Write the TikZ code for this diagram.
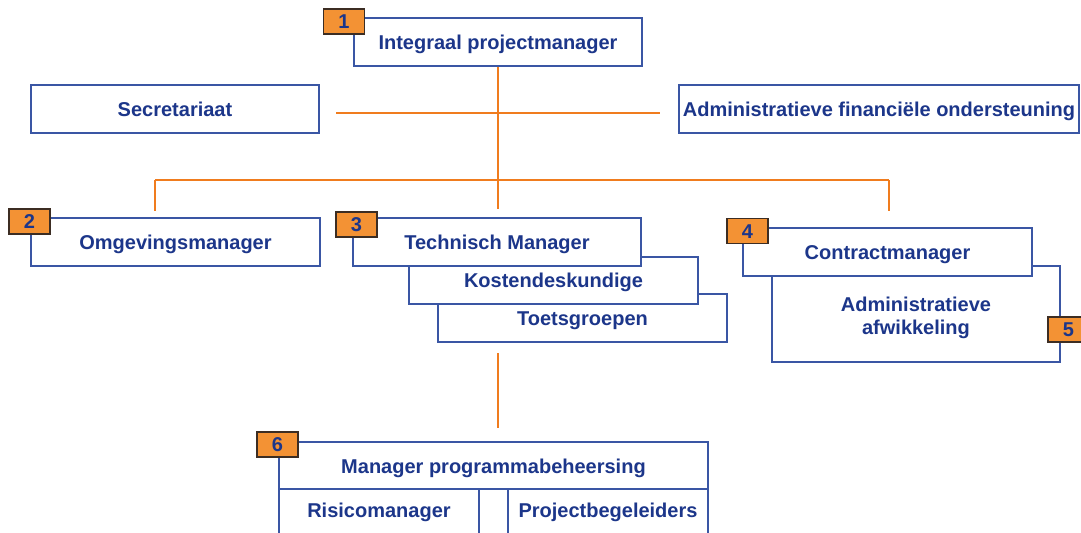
\documentclass[tikz,border=0pt]{standalone}
\usepackage{fontspec}
\setmainfont{Liberation Sans}
\definecolor{txtblue}{RGB}{28,54,138}
\definecolor{boxblue}{RGB}{58,86,164}
\definecolor{linkorange}{RGB}{240,124,30}
\definecolor{badgeorange}{RGB}{243,146,52}
\definecolor{badgeborder}{RGB}{60,45,35}
\begin{document}
\begin{tikzpicture}[x=0.75pt,y=-0.75pt,
  boxframe/.style={draw=boxblue, line width=0.9pt, fill=white, text=txtblue,
    font=\fontsize{15}{17.25}\selectfont\bfseries, inner sep=0pt, align=center},
  box/.style={boxframe, text height=10.75pt, text depth=0pt},
  boxtext/.style={text=txtblue, font=\fontsize{15}{17.25}\selectfont\bfseries,
    inner sep=0pt, align=center},
  badge/.style={draw=badgeborder, line width=0.9pt, fill=badgeorange, text=txtblue,
    font=\fontsize{15}{18}\selectfont\bfseries, inner sep=0pt,
    text height=10.75pt, text depth=0pt,
    minimum width=30.75pt, minimum height=18.75pt},
  link/.style={draw=linkorange, line width=1.1pt}]
\useasboundingbox[fill=white] (0,0) rectangle (1081,532);
\begin{scope}
\clip (0,0) rectangle (1081,532);
% connector end points
\coordinate (secR) at (336,113);
\coordinate (admL) at (660,113);
\coordinate (jB) at (498,180);
\coordinate (hL) at (155,180);
\coordinate (hR) at (889,180);
\coordinate (dL) at (155,211);
\coordinate (dM) at (498,209);
\coordinate (dR) at (889,211);
\coordinate (vT) at (498,353);
\coordinate (vB) at (498,428);
% boxes
\node[box, minimum width=216pt, minimum height=36pt] (pm) at (498,42) {Integraal projectmanager};
\node[box, minimum width=216pt, minimum height=36pt] (sec) at (175,109) {Secretariaat};
\node[box, minimum width=300pt, minimum height=36pt] (adm) at (879,109) {Administratieve financi\"ele ondersteuning};
\node[box, minimum width=216.75pt, minimum height=36pt] (omg) at (175.5,242) {Omgevingsmanager};
\node[box, minimum width=216.75pt, minimum height=36pt] (toets) at (582.5,318) {Toetsgroepen};
\node[box, minimum width=216.75pt, minimum height=35.25pt] (kost) at (553.5,280.5) {Kostendeskundige};
\node[box, minimum width=216pt, minimum height=36pt] (tech) at (497,242) {Technisch Manager};
\node[boxframe, minimum width=216pt, minimum height=72pt] (afw) at (916,314) {};
\node[boxtext] (afwt) at (916,317.5) {Administratieve\\afwikkeling};
\node[box, minimum width=216.75pt, minimum height=36pt] (con) at (887.5,252) {Contractmanager};
\node[box, minimum width=321.75pt, minimum height=36pt] (mpb) at (493.5,466) {Manager programmabeheersing};
\node[box, text depth=3pt, minimum width=150pt, minimum height=34.5pt] (risico) at (379,512) {Risicomanager};
\node[box, minimum width=21.75pt, minimum height=34.5pt] (mid) at (493.5,512) {};
\node[box, text depth=3pt, minimum width=150pt, minimum height=34.5pt] (pbeg) at (608,512) {Projectbegeleiders};
% connectors
\draw[link] (pm.south) -- (jB);
\draw[link] (secR) -- (admL);
\draw[link] (hL) -- (hR);
\draw[link] (hL) -- (dL);
\draw[link] (jB) -- (dM);
\draw[link] (hR) -- (dR);
\draw[link] (vT) -- (vB);
% badges
\node[badge] (b1) at (344,21.5) {1};
\node[badge] (b2) at (29.5,221.5) {2};
\node[badge] (b3) at (356.5,224.5) {3};
\node[badge] (b4) at (747.5,231) {4};
\node[badge] (b5) at (1068.5,329.5) {5};
\node[badge] (b6) at (277.5,444.5) {6};
\end{scope}
\end{tikzpicture}
\end{document}
